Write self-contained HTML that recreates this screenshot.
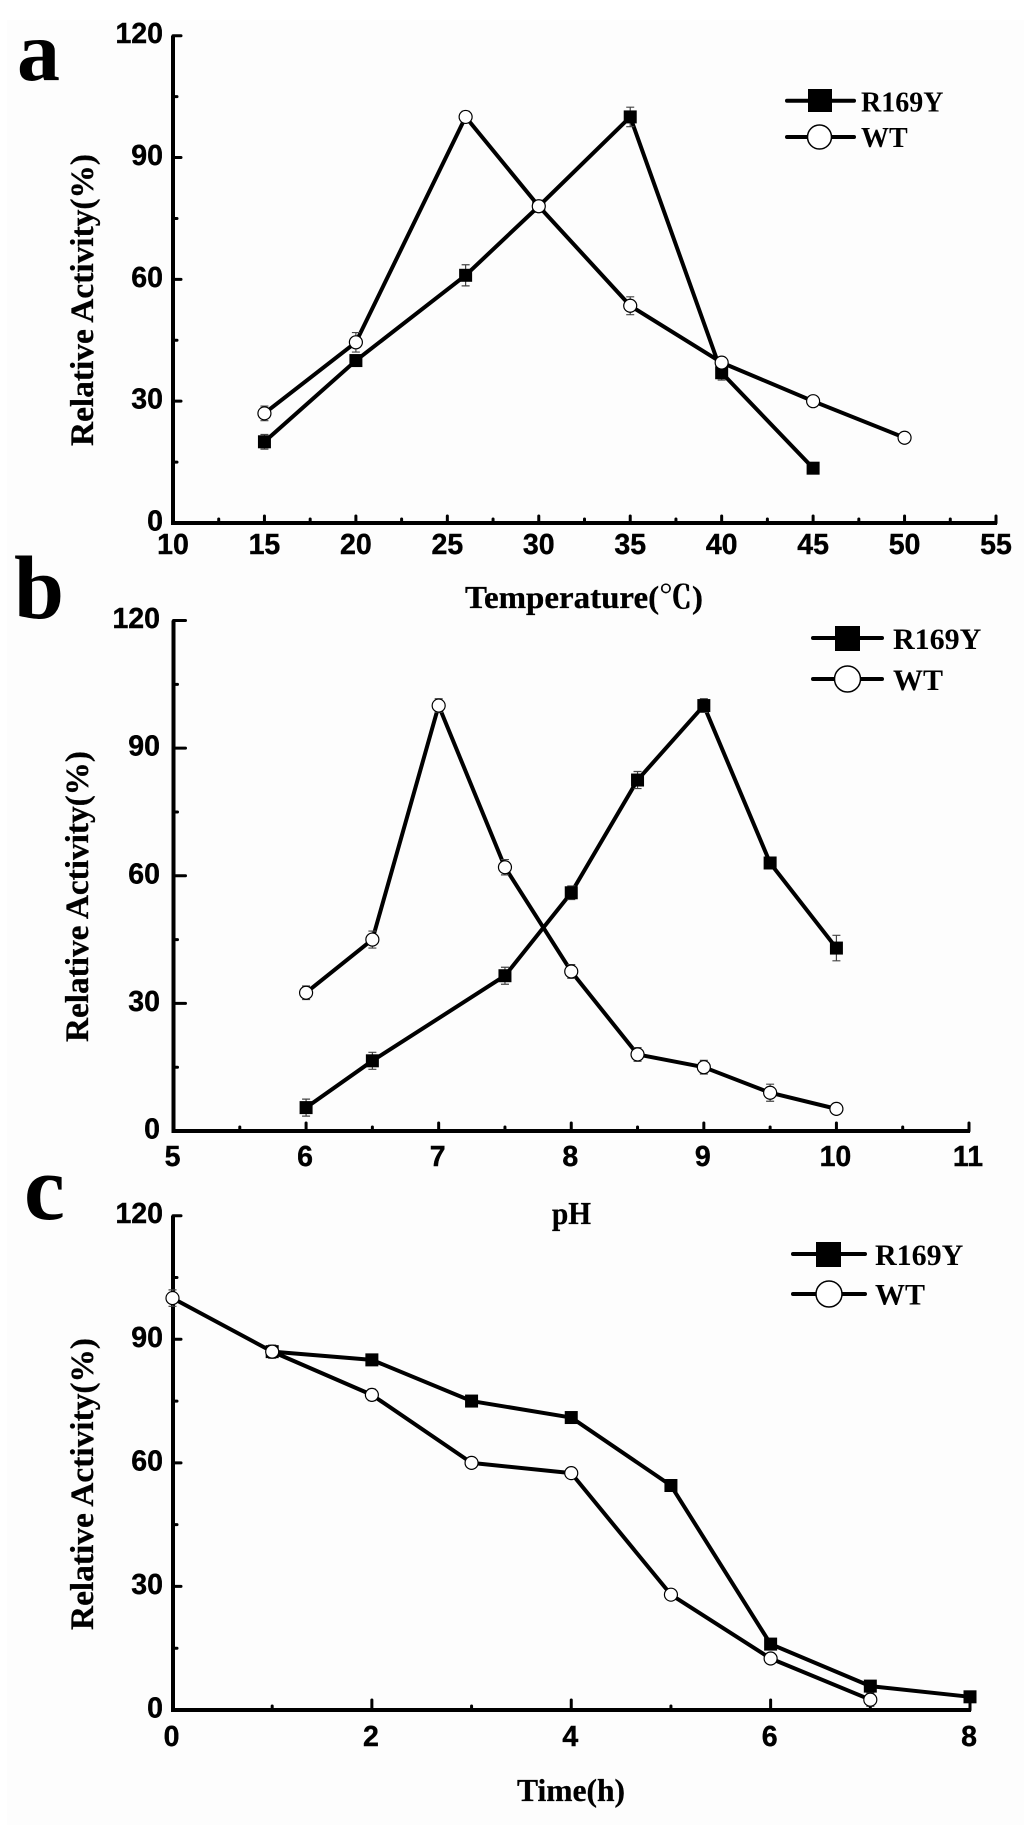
<!DOCTYPE html>
<html lang="en">
<head>
<meta charset="utf-8">
<title>Relative activity of R169Y and WT</title>
<style>
html,body{margin:0;padding:0;background:#fff;}
svg{display:block;}
.tick{font-family:"Liberation Sans",sans-serif;font-weight:700;font-size:28.5px;fill:#000;stroke:#000;stroke-width:.4px;}
.title{font-family:"Liberation Serif","Noto Serif CJK SC",serif;font-weight:700;font-size:32px;fill:#000;stroke:#000;stroke-width:.3px;}
.ytitle{font-size:33px;}
.letter{font-family:"Liberation Serif",serif;font-weight:700;fill:#000;}
.leg{font-family:"Liberation Serif",serif;font-weight:700;fill:#000;}
</style>
</head>
<body>
<svg id="chart" xmlns="http://www.w3.org/2000/svg" width="1024" height="1825" viewBox="0 0 1024 1825">
<rect x="7" y="20" width="1017" height="1805" fill="#fdfdfd"/>

<text class="letter" x="17" y="80" font-size="86">a</text>
<text class="letter" x="14" y="618" font-size="90">b</text>
<text class="letter" x="24" y="1219" font-size="92">c</text>

<text class="title ytitle" transform="translate(93,446) rotate(-90)" textLength="292" lengthAdjust="spacingAndGlyphs">Relative Activity(%)</text>
<text class="title" x="465" y="608" textLength="238" lengthAdjust="spacingAndGlyphs">Temperature(℃)</text>
<text class="title ytitle" transform="translate(88,1042) rotate(-90)" textLength="291" lengthAdjust="spacingAndGlyphs">Relative Activity(%)</text>
<text class="title" x="552" y="1224" textLength="39" lengthAdjust="spacingAndGlyphs">pH</text>
<text class="title ytitle" transform="translate(93,1630) rotate(-90)" textLength="292" lengthAdjust="spacingAndGlyphs">Relative Activity(%)</text>
<text class="title" x="517" y="1801" textLength="108" lengthAdjust="spacingAndGlyphs">Time(h)</text>

<g>
  <line x1="787" y1="100.7" x2="854" y2="100.7" stroke="#000" stroke-width="4" stroke-linecap="round"/>
  <rect x="808" y="89" width="24" height="23" fill="#000"/>
  <text class="leg" x="861" y="111.7" font-size="28">R169Y</text>
  <line x1="787" y1="137" x2="854" y2="137" stroke="#000" stroke-width="4" stroke-linecap="round"/>
  <circle cx="819.5" cy="137" r="12" fill="#fff" stroke="#000" stroke-width="1.5"/>
  <text class="leg" x="861" y="147" font-size="28">WT</text>
</g>
<g>
  <line x1="813" y1="638" x2="882" y2="638" stroke="#000" stroke-width="4" stroke-linecap="round"/>
  <rect x="835" y="626" width="25" height="25" fill="#000"/>
  <text class="leg" x="893" y="649" font-size="30">R169Y</text>
  <line x1="813" y1="679" x2="882" y2="679" stroke="#000" stroke-width="4" stroke-linecap="round"/>
  <circle cx="847.5" cy="679" r="13" fill="#fff" stroke="#000" stroke-width="1.5"/>
  <text class="leg" x="893" y="690" font-size="30">WT</text>
</g>
<g>
  <line x1="793" y1="1254" x2="865" y2="1254" stroke="#000" stroke-width="4" stroke-linecap="round"/>
  <rect x="816" y="1242" width="25" height="25" fill="#000"/>
  <text class="leg" x="875" y="1265" font-size="30">R169Y</text>
  <line x1="793" y1="1294" x2="865" y2="1294" stroke="#000" stroke-width="4" stroke-linecap="round"/>
  <circle cx="829" cy="1294" r="13" fill="#fff" stroke="#000" stroke-width="1.5"/>
  <text class="leg" x="875" y="1304.5" font-size="30">WT</text>
</g>
</svg>

<script>
// Shared value-axis tick labels
const yTickLabels = [0, 30, 60, 90, 120];

// Panel a: temperature
const tempXTicks = [10, 15, 20, 25, 30, 35, 40, 45, 50, 55];
const tempR169YX = [15, 20, 26, 30, 35, 40, 45];
const tempR169YY = [20, 40, 61, 78, 100, 37, 13.5];
const tempR169YErr = [1.8, 1, 2.6, 1, 2.4, 1.8, 1.2];
const tempWTX = [15, 20, 26, 30, 35, 40, 45, 50];
const tempWTY = [27, 44.5, 100, 78, 53.5, 39.5, 30, 21];
const tempWTErr = [1.8, 2.4, 1.4, 0.8, 2.2, 1, 1.2, 1];

// Panel b: pH
const phXTicks = [5, 6, 7, 8, 9, 10, 11];
const phR169YX = [6, 6.5, 7.5, 8, 8.5, 9, 9.5, 10];
const phR169YY = [5.5, 16.5, 36.5, 56, 82.5, 100, 63, 43];
const phR169YErr = [2, 2, 2, 1.6, 2, 1.6, 1, 3];
const phWTX = [6, 6.5, 7, 7.5, 8, 8.5, 9, 9.5, 10];
const phWTY = [32.5, 45, 100, 62, 37.5, 18, 15, 9, 5.2];
const phWTErr = [1.6, 2, 1.6, 1.8, 1.6, 1.6, 1.6, 2, 1.2];

// Panel c: time
const timeXTicks = [0, 2, 4, 6, 8];
const timeR169YX = [1, 2, 3, 4, 5, 6, 7, 8];
const timeR169YY = [87, 85, 75, 71, 54.5, 16, 5.8, 3.2];
const timeR169YErr = [1.5, 1, 1, 0.8, 0.8, 0.8, 0.8, 0.6];
const timeWTX = [0, 1, 2, 3, 4, 5, 6, 7];
const timeWTY = [100, 87, 76.5, 60, 57.5, 28, 12.5, 2.5];
const timeWTErr = [2, 1.6, 1.4, 1.2, 1.2, 1.2, 1, 1.6];

const svg = document.getElementById('chart');
const NS = 'http://www.w3.org/2000/svg';

function node(tag, attrs, parent) {
  const el = document.createElementNS(NS, tag);
  for (const k in attrs) el.setAttribute(k, attrs[k]);
  parent.appendChild(el);
  return el;
}

function drawPanel(p) {
  const sx = v => p.left + (v - p.xMin) / (p.xMax - p.xMin) * (p.right - p.left);
  const sy = v => p.bottom - v / 120 * (p.bottom - p.top);

  const g = node('g', {}, svg);
  
  

  // axes
  const yAxis = node('line', {x1: p.axisX, y1: sy(120), x2: p.axisX, y2: sy(0) + 2, stroke: '#000', 'stroke-width': 4}, g);
  
  
  const xAxis = node('line', {x1: p.axisX - 2, y1: sy(0), x2: p.right + 1, y2: sy(0), stroke: '#000', 'stroke-width': 4}, g);
  
  

  // y ticks and labels
  yTickLabels.forEach((v, i) => {
    if (v > 0) {
      const t = node('line', {x1: p.axisX, y1: sy(v), x2: p.axisX + p.yMajor, y2: sy(v), stroke: '#000', 'stroke-width': 3, 'stroke-linecap': 'round'}, g);
      
      
    }
    if (i < yTickLabels.length - 1) {
      const mid = (v + yTickLabels[i + 1]) / 2;
      const m = node('line', {x1: p.axisX, y1: sy(mid), x2: p.axisX + 4, y2: sy(mid), stroke: '#000', 'stroke-width': 3, 'stroke-linecap': 'round'}, g);
      
      
    }
    const l = node('text', {class: 'tick', x: p.yLabelX, y: sy(v) + 7.5, 'text-anchor': 'end'}, g);
    l.textContent = v;
    
    
  });

  // x ticks and labels
  p.xTicks.forEach((v, i) => {
    if (i > 0) {
      const t = node('line', {x1: sx(v), y1: sy(0), x2: sx(v), y2: sy(0) - p.xMajor, stroke: '#000', 'stroke-width': 3, 'stroke-linecap': 'round'}, g);
      
      
    }
    if (i < p.xTicks.length - 1) {
      const mid = (v + p.xTicks[i + 1]) / 2;
      const m = node('line', {x1: sx(mid), y1: sy(0), x2: sx(mid), y2: sy(0) - 4, stroke: '#000', 'stroke-width': 3, 'stroke-linecap': 'round'}, g);
      
      
    }
    const l = node('text', {class: 'tick', x: sx(v) + p.xLabelDx, y: sy(0) + p.xLabelDy, 'text-anchor': 'middle'}, g);
    l.textContent = v;
    
    
  });

  // series lines
  [[p.rx, p.ry, 'r169y'], [p.wx, p.wy, 'wt']].forEach(s => {
    const pts = s[0].map((x, i) => sx(x) + ',' + sy(s[1][i])).join(' ');
    const line = node('polyline', {points: pts, fill: 'none', stroke: '#000', 'stroke-width': 4, 'stroke-linejoin': 'round'}, g);
    
    
  });

  // error bars
  [[p.rx, p.ry, p.re], [p.wx, p.wy, p.we]].forEach(s => {
    s[0].forEach((x, i) => {
      const y0 = sy(s[1][i] - s[2][i]), y1 = sy(s[1][i] + s[2][i]), cx = sx(x);
      const d = 'M' + cx + ' ' + y0 + 'V' + y1 + 'M' + (cx - 4) + ' ' + y0 + 'H' + (cx + 4) + 'M' + (cx - 4) + ' ' + y1 + 'H' + (cx + 4);
      const e = node('path', {d: d, fill: 'none', stroke: '#444', 'stroke-width': 1.2}, g);
      
      
    });
  });

  // markers
  p.rx.forEach((x, i) => {
    const m = node('rect', {x: sx(x) - 6.5, y: sy(p.ry[i]) - 6.5, width: 13, height: 13, fill: '#000'}, g);
    
    
  });
  p.wx.forEach((x, i) => {
    const m = node('circle', {cx: sx(x), cy: sy(p.wy[i]), r: 6.5, fill: '#fff', stroke: '#000', 'stroke-width': 1.2}, g);
    
    
  });
}

drawPanel({id: 'a', left: 173, right: 996, top: 35.7, bottom: 523, xMin: 10, xMax: 55, axisX: 173,
  xTicks: tempXTicks, yLabelX: 163, xLabelDx: 0, xLabelDy: 31, yMajor: 8, xMajor: 7,
  rx: tempR169YX, ry: tempR169YY, re: tempR169YErr, wx: tempWTX, wy: tempWTY, we: tempWTErr});
drawPanel({id: 'b', left: 173.5, right: 969, top: 620.5, bottom: 1131, xMin: 5, xMax: 11, axisX: 173.5,
  xTicks: phXTicks, yLabelX: 160, xLabelDx: -1, xLabelDy: 35, yMajor: 12, xMajor: 8,
  rx: phR169YX, ry: phR169YY, re: phR169YErr, wx: phWTX, wy: phWTY, we: phWTErr});
drawPanel({id: 'c', left: 172.5, right: 970, top: 1215.7, bottom: 1710, xMin: 0, xMax: 8, axisX: 173,
  xTicks: timeXTicks, yLabelX: 163, xLabelDx: -1, xLabelDy: 36, yMajor: 8, xMajor: 10,
  rx: timeR169YX, ry: timeR169YY, re: timeR169YErr, wx: timeWTX, wy: timeWTY, we: timeWTErr});
</script>
</body>
</html>
